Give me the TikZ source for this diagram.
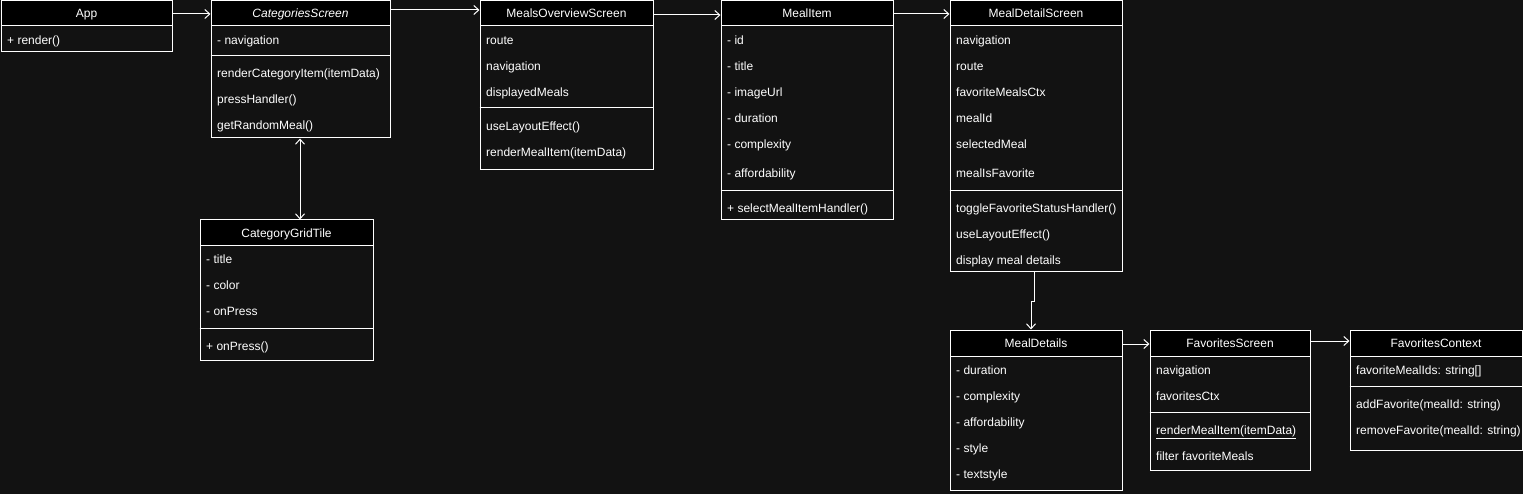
\documentclass[tikz,border=0pt]{standalone}
\usepackage{fontspec}
\setmainfont{Liberation Sans}
\usetikzlibrary{arrows.meta,fit}
\definecolor{bgc}{RGB}{18,18,18}
\tikzset{
  classbody/.style={draw=white, line width=1pt, inner sep=0pt, fill=bgc},
  classhead/.style={draw=white, line width=1pt, inner sep=0pt, fill=black},
  headtext/.style={text=white, inner sep=0pt, text height=8.6pt, text depth=0pt, font=\fontsize{12}{14}\selectfont},
  rowtext/.style={text=white, inner sep=0pt, anchor=west, text height=8.6pt, text depth=0pt, font=\fontsize{12}{14}\selectfont},
  sepline/.style={draw=white, line width=1pt},
  arr/.style={draw=white, line width=1pt, -{Straight Barb[length=5pt,width=9pt]}},
  arrboth/.style={draw=white, line width=1pt, {Straight Barb[length=5pt,width=9pt]}-{Straight Barb[length=5pt,width=9pt]}}
}
% name, x1, y1, x2, y2, header bottom, title
\newcommand\umlbox[7]{%
  \node[classbody, fit={(#2,#3) (#4,#5)}] (#1) {};
  \node[classhead, fit={(#2,#3) (#4,#6)}] (#1-h) {};
  \node[headtext] (#1-t) at (#1-h) {#7};
}
\newcommand\sepat[2]{\draw[sepline] (#1.west |- 0,#2) -- (#1.east |- 0,#2);}
\begin{document}
\begin{tikzpicture}[x=1pt,y=-1pt]
\fill[bgc] (0,0) rectangle (1523,494);
\useasboundingbox (0,0) rectangle (1523,494);

% App
\umlbox{app}{1}{1}{172}{52}{26}{App}
\node[rowtext] (app-r1) at (7,40) {+ render()};

% CategoriesScreen
\umlbox{cs}{211}{1}{390}{138}{26}{\itshape CategoriesScreen}
\sepat{cs}{56}
\node[rowtext] (cs-r1) at (217,40) {- navigation};
\node[rowtext] (cs-r2) at (217,73) {renderCategoryItem(itemData)};
\node[rowtext] (cs-r3) at (217,99) {pressHandler()};
\node[rowtext] (cs-r4) at (217,125) {getRandomMeal()};

% CategoryGridTile
\umlbox{cgt}{200}{220}{373}{360}{246}{CategoryGridTile}
\sepat{cgt}{328}
\node[rowtext] (cgt-r1) at (206,259.5) {- title};
\node[rowtext] (cgt-r2) at (206,285.5) {- color};
\node[rowtext] (cgt-r3) at (206,311.5) {- onPress};
\node[rowtext] (cgt-r4) at (206,346) {+ onPress()};

% MealsOverviewScreen
\umlbox{mos}{480}{1}{653}{170}{26}{MealsOverviewScreen}
\sepat{mos}{108}
\node[rowtext] (mos-r1) at (486,40) {route};
\node[rowtext] (mos-r2) at (486,66) {navigation};
\node[rowtext] (mos-r3) at (486,92) {displayedMeals};
\node[rowtext] (mos-r4) at (486,126) {useLayoutEffect()};
\node[rowtext] (mos-r5) at (486,152) {renderMealItem(itemData)};

% MealItem
\umlbox{mi}{721}{1}{893}{220}{26}{MealItem}
\sepat{mi}{191}
\node[rowtext] (mi-r1) at (727,40) {- id};
\node[rowtext] (mi-r2) at (727,66) {- title};
\node[rowtext] (mi-r3) at (727,92) {- imageUrl};
\node[rowtext] (mi-r4) at (727,118) {- duration};
\node[rowtext] (mi-r5) at (727,144) {- complexity};
\node[rowtext] (mi-r6) at (727,173.5) {- affordability};
\node[rowtext] (mi-r7) at (727,208) {+ selectMealItemHandler()};

% MealDetailScreen
\umlbox{mds}{950}{1}{1122}{272}{26}{MealDetailScreen}
\sepat{mds}{191}
\node[rowtext] (mds-r1) at (956,40) {navigation};
\node[rowtext] (mds-r2) at (956,66) {route};
\node[rowtext] (mds-r3) at (956,92) {favoriteMealsCtx};
\node[rowtext] (mds-r4) at (956,118) {mealId};
\node[rowtext] (mds-r5) at (956,144) {selectedMeal};
\node[rowtext] (mds-r6) at (956,173.5) {mealIsFavorite};
\node[rowtext] (mds-r7) at (956,208) {toggleFavoriteStatusHandler()};
\node[rowtext] (mds-r8) at (956,234) {useLayoutEffect()};
\node[rowtext] (mds-r9) at (956,260) {display meal details};

% MealDetails
\umlbox{md}{950}{330}{1122}{490}{356.5}{MealDetails}
\node[rowtext] (md-r1) at (956,370) {- duration};
\node[rowtext] (md-r2) at (956,396) {- complexity};
\node[rowtext] (md-r3) at (956,422) {- affordability};
\node[rowtext] (md-r4) at (956,448) {- style};
\node[rowtext] (md-r5) at (956,474) {- textstyle};

% FavoritesScreen
\umlbox{fs}{1150}{330}{1310}{470.5}{356.5}{FavoritesScreen}
\sepat{fs}{412.5}
\node[rowtext] (fs-r1) at (1156,370) {navigation};
\node[rowtext] (fs-r2) at (1156,396) {favoritesCtx};
\node[rowtext] (fs-r3) at (1156,430.5) {\underline{renderMealItem(itemData)}};
\node[rowtext] (fs-r4) at (1156,456) {filter favoriteMeals};

% FavoritesContext
\umlbox{fc}{1350}{330}{1522}{450}{356.5}{FavoritesContext}
\sepat{fc}{386.5}
\node[rowtext] (fc-r1) at (1356,370) {favoriteMealIds: string[]};
\node[rowtext] (fc-r2) at (1356,404.5) {addFavorite(mealId: string)};
\node[rowtext] (fc-r3) at (1356,430.5) {removeFavorite(mealId: string)};

% connectors
\draw[arr] (app.east |- 0,14) -- (cs.west |- 0,14);
\draw[arr] (cs.east |- 0,10) -- (mos.west |- 0,10);
\draw[arr] (mos.east |- 0,15) -- (mi.west |- 0,15);
\draw[arr] (mi.east |- 0,14) -- (mds.west |- 0,14);
\draw[arrboth] (300,0 |- cs.south) -- (300,0 |- cgt.north);
\coordinate (bend1) at (1034,302);
\coordinate (bend2) at (1031,302);
\draw[arr] (1034,0 |- mds.south) -- (bend1) -- (bend2) -- (bend2 |- md.north);
\draw[arr] (md.east |- 0,344) -- (fs.west |- 0,344);
\draw[arr] (fs.east |- 0,341) -- (fc.west |- 0,341);
\end{tikzpicture}
\end{document}
